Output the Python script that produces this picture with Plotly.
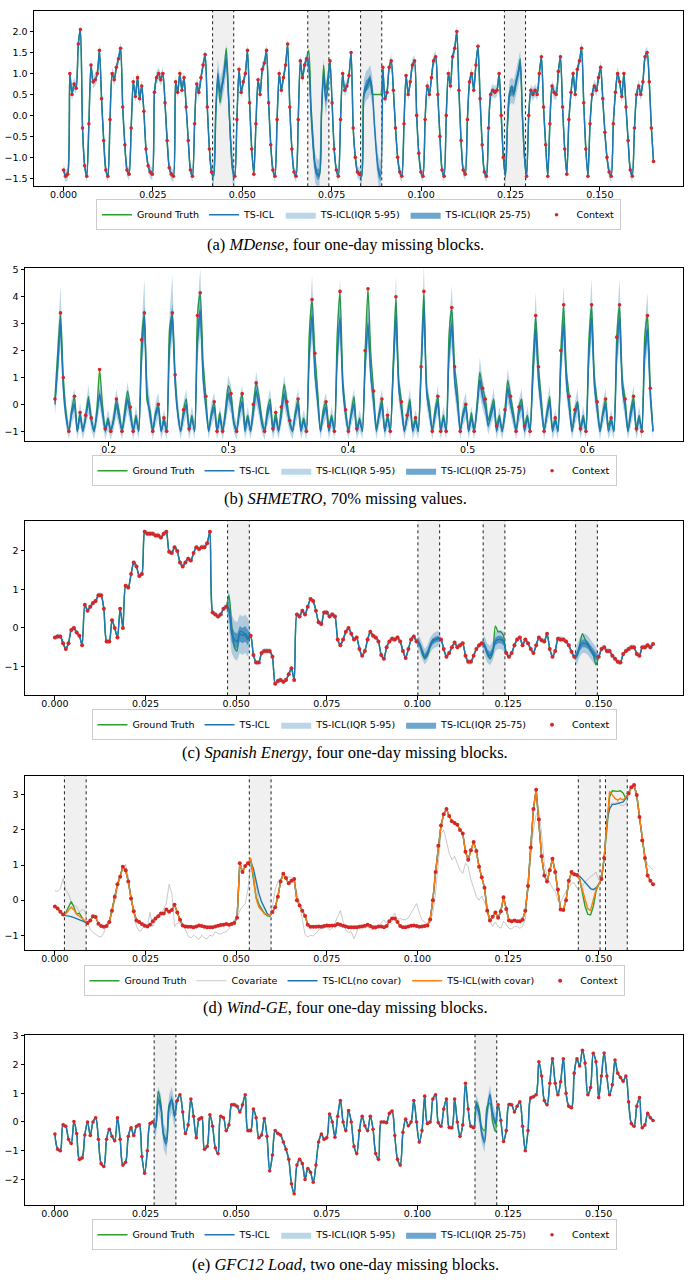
import numpy as np
import plotly.graph_objects as go

# ======================= DATA =======================
# ---- (a) MDense ----
A_X_SPAN = (0.0, 0.165)
A_GT = [
    -1.3, -1.45, -1.4, 1.0, 0.5, 0.75, 0.65, 1.7, 2.05, -0.3, -1.2,
    -1.45, -0.2, 1.2, 0.8, 0.85, 1.0, 1.55, 0.4, -0.6, -1.3,
    -1.45, -0.1, 1.0, 0.85, 1.15, 1.35, 1.6, 0.2, -0.7, -1.3,
    -1.4, -0.3, 0.8, 0.45, 0.9, 0.4, 0.7, 0.1, -0.8, -1.2, -1.35,
    -1.4, 0.55, 0.9, 1.0, 0.85, 1.0, 0.3, -0.6, -1.25, -1.4,
    -1.45, 0.8, 0.55, 1.0, 0.6, 0.9, 0.2, -0.6, -1.3,
    -1.45, -0.2, 0.75, 0.55, 0.9, 1.2, 1.45, 0.2, -0.8, -1.35,
    -1.45, 0.0, 0.9, 0.3, 0.7, 1.1, 1.6, 0.5, -0.6, -1.3,
    -1.45, -0.1, 1.1, 0.55, 0.8, 1.0, 1.55, 0.3, -0.8,
    -1.4, -0.2, 0.85, 0.5, 1.1, 1.25, 1.55, 0.3, -0.7, -1.3,
    -1.45, -0.1, 1.0, 0.6, 0.9, 1.2, 1.7, 0.2, -0.8, -1.35,
    -1.45, -0.1, 1.3, 0.9, 1.2, 1.35, 1.55, 0.3, -0.6, -1.2, -1.4,
    -1.45, 0.0, 1.2, 0.6, 0.9, 1.3, 0.3, -0.8, -1.3,
    -1.45, -0.1, 1.0, 0.6, 0.7, 0.95, 1.5, -0.3, -1.0, -1.35, -1.4,
    -1.45, 0.5, 0.6, 0.8, 0.9, 0.5, 0.5, 0.5, 0.5, 0.5,
    1.15, 0.4, 0.55, 1.15, 1.3, 0.6, -0.3, -1.0, -1.35,
    -1.45, -0.2, 0.95, 0.5, 0.8, 1.2, 1.3, 0.0, -0.9, -1.35,
    -1.45, -0.1, 0.7, 0.5, 0.9, 1.3, 1.4, 0.5, -0.5, -1.3,
    -1.45, 0.0, 1.0, 0.7, 1.4, 1.6, 2.0, 0.6, -0.6, -1.3,
    -1.4, -0.1, 0.8, 1.0, 0.6, 1.2, 1.65, 0.4, -0.7, -1.35,
    -1.45, -0.3, 0.5, 0.6, 0.55, 0.6, 1.0, 0.0, -1.0,
    -1.45, -0.2, 0.5, 0.7, 0.5, 0.8, 1.0, 1.35, 0.0, -1.0,
    -1.45, 0.0, 0.6, 0.5, 0.6, 0.5, 1.0, 1.4, 0.2, -0.7,
    -1.45, -0.2, 0.7, 0.55, 0.5, 1.05, 1.4, 0.2, -0.8, -1.4,
    -0.1, 0.55, 1.0, 0.5, 1.1, 1.3, 1.6, 0.3, -0.8,
    -1.45, -0.2, 0.5, 0.7, 0.6, 0.9, 1.15, 0.4, -0.4, -1.0, -1.35,
    -1.45, -0.2, 0.55, 1.0, 0.8, 0.45, 1.0, 0.2, -0.6, -1.3,
    -1.45, -0.3, 0.5, 0.7, 0.5, 0.8, 1.4, 1.5, 0.8, -0.3, -1.1,
]
A_BLOCK_START = [71, 116, 141, 209]
A_BLOCK_PRED = [
    [-1.45, 0.1, 1.0, 0.55, 0.7, 1.0, 1.35, 0.5, -0.6, -1.3],
    [1.2, 0.1, -0.7, -1.25, -1.4, -1.4, 0.1, 1.0, 0.35, 0.7],
    [-1.45, 0.5, 0.7, 0.75, 0.85, 0.6, -0.2, -0.9, -1.35, -1.45],
    [-1.45, -0.1, 0.55, 0.6, 0.55, 0.8, 1.0, 1.25, 0.0, -1.0],
]
A_BLOCK_BAND = [(0.35, 0.13), (0.35, 0.13), (0.35, 0.13), (0.3, 0.12)]
A_CTX_BAND = (0.15, 0.05)

# ---- (b) SHMETRO ----
B_X_SPAN = (0.155, 0.655)
B_GT = [
    0.2, 1.9, 3.4, 1.0, -0.3, -1.0, -0.2, 0.3, -1.0, -0.3,
    -1.0, -0.4, 0.3, -0.5, -1.0, -0.2, 1.3, 0.0, -0.9, -0.5,
    -1.0, -0.5, 0.2, -0.3, -1.0, -0.2, 0.5, -0.1, -1.0, -0.4,
    -1.0, 2.4, 3.4, 0.1, -0.2, -1.0, -0.3, 0.0, -1.0, -0.5,
    -1.0, 2.8, 3.4, 1.1, -0.3, -1.0, -0.2, 0.2, -0.9, -0.4,
    -1.0, 3.3, 4.15, 1.6, 0.3, -1.0, -0.3, 0.1, -1.0, -0.3,
    -1.0, -0.2, 0.7, 0.4, -0.6, -1.0, -0.1, 0.4, -0.8, -0.4,
    -1.0, 0.0, 0.8, 0.3, -0.5, -1.0, -0.2, 0.2, -0.9, -0.3,
    -1.0, -0.1, 0.75, 0.1, -0.6, -1.0, -0.3, 0.2, -0.9, -0.5,
    -1.0, 2.6, 3.9, 1.9, 0.5, -1.0, -0.2, 0.1, -0.8, -0.4,
    -1.0, 2.6, 4.2, 0.9, -0.2, -1.0, -0.3, 0.3, -0.9, -0.5,
    -1.0, 2.0, 4.3, 1.9, 0.5, -0.9, -0.3, 0.2, -1.0, -0.4,
    -1.0, 1.4, 4.0, 0.9, 0.1, -1.0, -0.4, 0.2, -0.9, -0.5,
    -1.0, 1.4, 4.2, 0.6, 0.0, -1.0, -0.2, 0.3, -1.0, -0.4,
    -1.0, 2.6, 3.6, 1.4, 0.5, -1.0, -0.3, 0.0, -1.0, -0.3,
    -1.0, 0.0, 1.2, 0.6, 0.2, -0.6, -0.2, 0.2, -0.8, -0.4,
    -1.0, -0.2, 0.9, 0.3, -0.3, -1.0, -0.1, 0.2, -0.8, -0.4,
    -1.0, 1.5, 3.3, 1.4, 0.2, -1.0, -0.3, 0.3, -0.9, -0.5,
    -1.0, 2.0, 3.7, 1.2, 0.3, -1.0, -0.2, 0.1, -0.9, -0.4,
    -1.0, 2.3, 3.7, 1.0, 0.1, -1.0, -0.3, 0.2, -0.8, -0.5,
    -1.0, 2.5, 3.7, 0.9, 0.2, -1.0, -0.2, 0.3, -0.9, -0.4,
    -1.0, 2.5, 3.3, 0.6, -1.0,
]
B_PRED = [
    0.0, 1.4, 3.0, 0.6, -0.5, -1.0, -0.3, 0.0, -1.0, -0.4,
    -1.0, -0.5, 0.1, -0.6, -1.0, -0.4, 0.4, -0.3, -1.0, -0.6,
    -1.0, -0.6, 0.0, -0.5, -1.0, -0.4, 0.2, -0.4, -1.0, -0.5,
    -1.0, 1.8, 3.2, 0.4, -0.4, -1.0, -0.4, -0.1, -1.0, -0.6,
    -1.0, 2.2, 3.3, 0.8, -0.4, -1.0, -0.4, 0.0, -1.0, -0.5,
    -1.0, 2.4, 3.5, 1.0, -0.1, -1.0, -0.4, -0.1, -1.0, -0.5,
    -1.0, -0.4, 0.4, 0.1, -0.7, -1.0, -0.3, 0.1, -1.0, -0.5,
    -1.0, -0.3, 0.5, 0.0, -0.7, -1.0, -0.4, 0.0, -1.0, -0.5,
    -1.0, -0.4, 0.4, -0.1, -0.7, -1.0, -0.4, 0.0, -1.0, -0.6,
    -1.0, 1.9, 3.3, 1.2, 0.1, -1.0, -0.4, -0.1, -1.0, -0.5,
    -1.0, 1.8, 3.2, 0.6, -0.4, -1.0, -0.4, 0.0, -1.0, -0.6,
    -1.0, 1.5, 3.0, 1.1, 0.1, -1.0, -0.4, 0.0, -1.0, -0.5,
    -1.0, 1.2, 3.3, 0.6, -0.2, -1.0, -0.5, 0.0, -1.0, -0.6,
    -1.0, 1.2, 3.6, 0.4, -0.3, -1.0, -0.4, 0.1, -1.0, -0.5,
    -1.0, 1.9, 3.0, 0.9, 0.1, -1.0, -0.4, -0.1, -1.0, -0.5,
    -1.0, -0.2, 0.9, 0.3, -0.1, -0.8, -0.4, 0.0, -1.0, -0.5,
    -1.0, -0.4, 0.6, 0.0, -0.5, -1.0, -0.3, 0.0, -1.0, -0.5,
    -1.0, 1.1, 2.8, 0.9, -0.1, -1.0, -0.4, 0.1, -1.0, -0.6,
    -1.0, 1.5, 3.0, 0.8, -0.1, -1.0, -0.4, 0.0, -1.0, -0.5,
    -1.0, 1.8, 3.2, 0.7, -0.2, -1.0, -0.4, 0.0, -1.0, -0.6,
    -1.0, 1.9, 3.2, 0.6, -0.1, -1.0, -0.4, 0.1, -1.0, -0.5,
    -1.0, 1.9, 2.8, 0.3, -1.0,
]
B_CONTEXT_MASK = (
    "1011010101" "0101001010" "1010100110" "0110010101" "1011001010"
    "0110100110" "1001010100" "0110010011" "0101100100" "1011000110"
    "1010110010" "0110100101" "1010101001" "0110010110" "1011010100"
    "1001100010" "0101011010" "1011010001" "0110101010" "1010100101"
    "0110100110" "10110"
)
# quantile widths (base, per unit of level above -1)
B_BAND95 = (0.3, 0.28)
B_BAND50 = (0.08, 0.09)

# ---- (c) Spanish Energy ----
C_X_SPAN = (0.0, 0.165)
C_GT = [
    -0.25, -0.22, -0.22, -0.4, -0.55, -0.4, -0.05, 0.0, -0.12, -0.2,
    -0.45, 0.6, 0.45, 0.55, 0.65, 0.7, 0.85, 0.85, 0.5, -0.35,
    -0.35, 0.2, 0.0, -0.25, 0.5, 0.0, 1.1, 1.05, 1.4, 1.7,
    1.6, 1.35, 1.4, 2.5, 2.45, 2.45, 2.45, 2.4, 2.4, 2.35,
    2.45, 2.5, 1.98, 1.95, 2.1, 2.0, 1.7, 1.6, 1.7, 1.8,
    1.75, 1.95, 2.1, 2.05, 2.1, 2.1, 2.2, 2.5, 0.4, 0.35,
    0.3, 0.35, 0.5, 0.55, 0.85, 0.1, -0.5, -0.6, -0.1, -0.1,
    -0.2, -0.3, -0.2, -0.7, -0.9, -0.9, -0.65, -0.6, -0.6, -0.6,
    -0.75, -1.45, -1.38, -1.35, -1.4, -1.35, -1.2, -1.05, -1.35, 0.35,
    0.3, 0.45, 0.35, 0.55, 0.75, 0.7, 0.45, 0.15, 0.1, 0.4,
    0.4, 0.3, 0.35, 0.3, -0.3, -0.45, -0.3, -0.1, 0.0, -0.15,
    -0.3, -0.25, -0.55, -0.72, -0.6, -0.3, -0.1, -0.2, -0.25, -0.35,
    -0.7, -0.8, -0.5, -0.35, -0.28, -0.3, -0.25, -0.35, -0.6, -0.78,
    -0.55, -0.3, -0.22, -0.35, -0.4, -0.65, -0.8, -0.72, -0.5, -0.3,
    -0.3, -0.25, -0.3, -0.55, -0.75, -0.65, -0.5, -0.38, -0.5, -0.45,
    -0.4, -0.72, -0.88, -0.88, -0.72, -0.55, -0.45, -0.4, -0.45, -0.65,
    -0.8, -0.65, 0.05, -0.1, -0.1, -0.2, -0.65, -0.75, -0.65, -0.45,
    -0.3, -0.25, -0.45, -0.3, -0.4, -0.55, -0.65, -0.45, -0.25, -0.32,
    -0.35, -0.15, -0.55, -0.75, -0.6, -0.28, -0.3, -0.3, -0.35, -0.45,
    -0.62, -0.75, -0.72, -0.45, -0.15, -0.3, -0.4, -0.55, -0.7, -0.95,
    -0.75, -0.55, -0.5, -0.6, -0.6, -0.72, -0.8, -0.88, -0.9, -0.68,
    -0.6, -0.55, -0.5, -0.5, -0.68, -0.72, -0.5, -0.5, -0.45, -0.5,
    -0.42,
]
C_BLOCK_START = [64, 134, 158, 192]
C_BLOCK_PRED = [
    [0.5, -0.15, -0.3, -0.35, -0.15, -0.2, -0.15, -0.25],
    [-0.4, -0.6, -0.75, -0.65, -0.45, -0.35, -0.3, -0.28],
    [-0.45, -0.65, -0.72, -0.6, -0.35, -0.3, -0.3, -0.35],
    [-0.7, -0.5, -0.4, -0.4, -0.45, -0.55, -0.65, -0.75],
]
C_BLOCK_BAND = [(0.5, 0.2), (0.2, 0.08), (0.25, 0.1), (0.25, 0.1)]
C_CTX_BAND = (0.07, 0.03)

# ---- (d) Wind-GE ----
D_X_SPAN = (0.0, 0.165)
D_GT = [
    -0.18, -0.24, -0.33, -0.41, -0.36, -0.22, -0.04, -0.2, -0.4, -0.37,
    -0.5, -0.63, -0.65, -0.58, -0.46, -0.48, -0.67, -0.74, -0.76, -0.74,
    -0.62, -0.3, 0.1, 0.45, 0.67, 0.95, 0.85, 0.53, 0.05, -0.32,
    -0.58, -0.62, -0.68, -0.73, -0.75, -0.7, -0.6, -0.52, -0.46, -0.38,
    -0.38, -0.27, -0.33, -0.28, -0.13, -0.35, -0.56, -0.72, -0.75, -0.76,
    -0.76, -0.77, -0.75, -0.72, -0.74, -0.76, -0.77, -0.77, -0.77, -0.75,
    -0.73, -0.71, -0.7, -0.68, -0.7, -0.68, -0.65, -0.5, 1.05, 0.8,
    0.97, 1.05, 1.15, 0.6, 0.08, -0.12, -0.26, -0.37, -0.44, -0.46,
    -0.34, -0.2, 0.1, 0.53, 0.75, 0.63, 0.48, 0.55, 0.6, 0.0,
    -0.15, -0.3, -0.45, -0.7, -0.76, -0.76, -0.76, -0.75, -0.76, -0.74,
    -0.72, -0.73, -0.72, -0.72, -0.68, -0.7, -0.73, -0.75, -0.77, -0.77,
    -0.77, -0.77, -0.76, -0.75, -0.73, -0.7, -0.74, -0.77, -0.77, -0.75,
    -0.75, -0.77, -0.74, -0.6, -0.52, -0.52, -0.62, -0.74, -0.77, -0.77,
    -0.75, -0.73, -0.72, -0.74, -0.76, -0.75, -0.74, -0.72, -0.55, 0.0,
    0.8, 1.55, 2.13, 2.45, 2.6, 2.4, 2.25, 2.2, 2.15, 2.0,
    1.9, 1.38, 1.15, 1.42, 1.66, 1.4, 0.95, 0.65, 0.35, -0.3,
    -0.58, -0.47, -0.35, -0.5, -0.32, 0.08, -0.25, -0.58, -0.6, -0.58,
    -0.6, -0.6, -0.56, -0.3, 0.4, 1.5, 2.6, 3.15, 2.3, 1.25,
    0.7, 0.53, 0.85, 1.18, 0.8, 0.3, -0.27, -0.28, 0.0, 0.55,
    0.8, 0.74, 0.72, 0.6, 0.15, -0.18, -0.4, -0.42, -0.18, 0.25,
    0.45, 0.6, 1.2, 2.2, 2.95, 3.12, 3.1, 3.1, 3.12, 3.05,
    2.9, 3.05, 3.22, 3.28, 3.0, 2.37, 1.7, 1.2, 0.7, 0.55,
    0.45,
]
D_COV = [
    0.27, 0.25, 0.32, 0.62, 0.28, 0.18, -0.05, -0.15, -0.18, -0.34,
    -0.27, -0.3, -0.65, -0.84, -0.92, -0.98, -1.03, -1.05, -0.93, -0.68,
    -0.55, -0.37, -0.03, 0.35, 0.67, 0.9, 1.02, 0.67, 0.05, -0.37,
    -0.75, -0.88, -0.85, -0.65, -0.75, -0.35, -0.75, -0.6, -0.4, -0.42,
    -0.23, -0.08, 0.45, 0.2, -0.75, -0.65, -0.65, -0.75, -0.85, -1.03,
    -1.08, -1.0, -1.05, -1.12, -1.0, -1.08, -1.1, -1.0, -1.03, -0.9,
    -0.95, -0.97, -0.92, -0.9, -0.82, -0.7, -0.55, -0.5, -0.3, -0.18,
    -0.1, 0.3, 1.0, 0.82, 0.45, -0.08, -0.27, -0.42, -0.4, -0.42,
    -0.18, 0.29, 0.52, 0.62, 0.64, 0.58, 0.67, 0.64, 0.5, 0.2,
    -0.08, -0.55, -0.98, -1.05, -1.0, -1.02, -0.95, -0.85, -0.8, -0.8,
    -0.75, -0.85, -0.8, -0.65, -0.45, -0.3, -0.6, -0.85, -0.93, -0.9,
    -1.1, -0.88, -0.72, -0.7, -0.8, -0.76, -0.83, -0.84, -0.83, -0.75,
    -0.65, -0.56, -0.65, -0.62, -0.55, -0.37, -0.55, -0.52, -0.56, -0.55,
    -0.5, -0.37, -0.22, -0.1, -0.35, -0.56, -0.62, -0.7, -0.65, -0.37,
    0.2, 0.95, 1.9, 2.0, 1.7, 1.35, 1.15, 1.25, 1.05, 0.85,
    0.76, 1.05, 0.95, 0.58, 0.35, 0.1, 0.0, 0.12, -0.05, -0.3,
    -0.6, -0.75, -0.62, -0.75, -0.8, -0.6, -0.7, -0.8, -0.82, -0.75,
    -0.75, -0.8, -0.75, -0.55, 0.3, 1.3, 2.0, 2.45, 2.55, 1.9,
    1.05, 0.67, 0.5, 0.35, 0.25, -0.02, -0.05, 0.12, 0.25, 0.35,
    0.48, 0.5, 0.34, 0.34, 0.4, 0.52, 0.6, 0.67, 0.72, 0.8,
    0.58, 0.62, 1.2, 2.05, 2.7, 2.78, 2.75, 2.82, 2.7, 2.7,
    2.75, 2.95, 3.2, 3.2, 2.9, 2.3, 1.7, 1.3, 1.0, 0.95,
    0.85,
]
D_BLOCK_START = [4, 72, 193, 203]
D_BLOCK_PRED_NOCOV = [
    [-0.44, -0.45, -0.47, -0.5, -0.53, -0.57, -0.6, -0.64],
    [1.12, 0.9, 0.55, 0.2, -0.05, -0.2, -0.37, -0.46],
    [0.68, 0.6, 0.5, 0.4, 0.33, 0.3, 0.35, 0.45],
    [2.27, 2.6, 2.73, 2.73, 2.75, 2.76, 2.8, 2.9],
]
D_BLOCK_PRED_COV = [
    [-0.39, -0.3, -0.2, -0.28, -0.4, -0.46, -0.52, -0.6],
    [1.2, 0.7, 0.05, -0.2, -0.3, -0.38, -0.42, -0.45],
    [0.58, 0.3, 0.05, -0.25, -0.29, 0.0, 0.3, 0.45],
    [2.3, 3.1, 3.0, 2.9, 2.85, 2.9, 2.85, 2.95],
]

# ---- (e) GFC12 Load ----
E_X_SPAN = (0.0, 0.165)
E_GT = [
    -0.42, -0.95, -1.0, -0.1, -0.15, -0.6, -0.75, 0.02, -0.4, -1.3,
    -1.25, -0.45, 0.0, -0.47, 0.0, 0.15, -0.6, -1.45, -1.55, -0.6,
    -0.25, -0.5, -0.65, 0.15, -0.6, -1.5, -1.4, -0.5, -0.2, -0.47,
    -0.15, -0.1, -1.2, -1.78, -1.0, -0.05, 0.0, -0.2, 1.07, 0.6,
    -0.45, -0.6, 0.6, 0.75, 0.2, 0.75, 0.95, 0.35, -0.4, -0.1,
    0.8, 0.2, -0.55, 0.1, 0.15, -0.95, -0.85, 0.25, -0.15, -0.9,
    -1.1, 0.2, 0.15, -0.3, -0.1, 0.6, 0.6, 0.55, 0.35, 0.6,
    0.95, -0.3, -0.3, 0.45, 0.15, -0.55, -0.45, 0.12, -0.5, -1.7,
    -1.15, -0.3, -0.4, -0.45, -0.7, -0.95, -1.3, -2.15, -2.5, -1.5,
    -1.3, -1.45, -2.0, -1.62, -1.75, -2.1, -1.5, -0.7, -0.42, -0.6,
    -0.55, 0.28, 0.0, -0.53, 0.2, 0.75, 0.0, -0.3, 0.4, 0.0,
    -0.85, -1.1, -0.3, 0.2, -0.13, -0.3, 0.2, -0.25, -1.1, -1.3,
    0.0, 0.0, -0.02, 0.3, 0.38, -0.47, -1.3, -1.5, -0.36, 0.1,
    -0.13, 0.0, 0.75, 0.0, -0.7, -0.3, 0.9, -0.05, 0.0, 0.8,
    0.95, -0.02, -0.15, 0.45, 0.8, -0.19, -0.2, 0.8, 0.0, -0.5,
    -0.1, 1.35, 0.45, -0.15, -0.2, 0.7, 0.45, -0.2, -0.3, 0.55,
    0.65, 0.0, -0.33, 0.6, 0.05, -0.68, -0.3, 0.61, 0.6, 0.35,
    0.55, 0.7, -0.15, -1.0, -0.3, 0.84, 0.88, 0.95, 2.1, 1.6,
    0.75, 0.6, 1.35, 2.2, 1.35, 0.95, 1.4, 2.2, 1.0, 0.55,
    0.5, 1.7, 2.2, 1.95, 2.5, 2.05, 0.95, 1.2, 2.39, 2.1,
    0.85, 1.6, 2.4, 1.6, 0.95, 1.3, 2.16, 1.7, 1.55, 1.42,
    1.6, 0.7, -0.05, -0.15, 0.55, 0.85, -0.2, -0.1, 0.3, 0.15,
    0.05,
]
E_BLOCK_START = [37, 155]
E_BLOCK_PRED = [
    [-0.2, 0.78, 0.5, -0.5, -0.75, 0.5, 0.78, 0.2],
    [0.6, 0.3, -0.4, -0.7, 0.4, 0.95, 0.3, -0.05],
]
E_BLOCK_BAND = [(0.45, 0.15), (0.35, 0.12)]
E_CTX_BAND = (0.08, 0.03)

CAPTIONS = [
    "(a) <i>MDense</i>, four one-day missing blocks.",
    "(b) <i>SHMETRO</i>, 70% missing values.",
    "(c) <i>Spanish Energy</i>, four one-day missing blocks.",
    "(d) <i>Wind-GE</i>, four one-day missing blocks.",
    "(e) <i>GFC12 Load</i>, two one-day missing blocks.",
]

# ======================= STYLE / LAYOUT =======================
W, H = 690, 1282
GREEN = "#2ca02c"
BLUE = "#1f77b4"
ORANGE = "#ff7f0e"
RED = "#d62728"
BAND95 = "rgba(31,119,180,0.30)"
BAND50 = "rgba(31,119,180,0.65)"
FONT = "DejaVu Sans"
TICK_SIZE = 9.5
LEG_SIZE = 9.5

# pixel boxes of the five axes: (left, top, right, bottom)
BOXES = [(34, 6, 683, 182), (25, 264, 683, 438), (25, 518, 683, 693),
         (25, 774, 683, 949), (25, 1034, 683, 1205)]
LEGEND_TOP = [195, 452, 707, 964, 1219]
CAPTION_Y = [240, 495, 750, 1006, 1264]
YRANGES = [(-1.69, 2.49), (-1.37, 5.07), (-1.75, 2.78), (-1.43, 3.54), (-2.9, 3.03)]
SMOOTH = {1: 0.7, 2: 0.6, 5: 1.0}

fig = go.Figure()


def ax_names(k):
    s = "" if k == 1 else str(k)
    return "x" + s, "y" + s, ("legend" if k == 1 else "legend%d" % k)


def line(k, x, y, color, name, rank, width=1.4, shape="spline", showlegend=True):
    xa, ya, lg = ax_names(k)
    fig.add_trace(go.Scatter(
        x=x, y=y, mode="lines", name=name, legend=lg, legendrank=rank,
        xaxis=xa, yaxis=ya, showlegend=showlegend,
        line=dict(color=color, width=width, shape=shape, smoothing=SMOOTH.get(k, 0.7)),
        hoverinfo="skip"))


def band(k, x, lo, hi, color, name, rank):
    xa, ya, lg = ax_names(k)
    fig.add_trace(go.Scatter(
        x=np.concatenate([x, x[::-1]]), y=np.concatenate([hi, lo[::-1]]),
        fill="toself", fillcolor=color, mode="lines", line=dict(width=0),
        name=name, legend=lg, legendrank=rank, xaxis=xa, yaxis=ya,
        hoverinfo="skip"))


def dots(k, x, y, rank, size=3.6):
    xa, ya, lg = ax_names(k)
    fig.add_trace(go.Scatter(
        x=x, y=y, mode="markers", name="Context", legend=lg, legendrank=rank,
        xaxis=xa, yaxis=ya, marker=dict(color=RED, size=size, line=dict(width=0)),
        hoverinfo="skip"))


def blocks(k, x, starts, lengths):
    _, ya, _ = ax_names(k)
    dx = x[1] - x[0]
    xa = "x" if k == 1 else "x%d" % k
    for s, L in zip(starts, lengths):
        x0 = x[s] - dx / 2
        x1 = x[s + L - 1] + dx / 2
        fig.add_shape(type="rect", xref=xa, yref=ya + " domain", x0=x0, x1=x1,
                      y0=0, y1=1, fillcolor="#f0f0f0", line=dict(width=0), layer="below")
        for xv in (x0, x1):
            fig.add_shape(type="line", xref=xa, yref=ya + " domain", x0=xv, x1=xv,
                          y0=0, y1=1, line=dict(color="#222222", width=1, dash="dot"),
                          layer="below")


def imputation_panel(k, span, gt, starts, preds, bands, ctx_band, dot_size=3.6):
    gt = np.array(gt, float)
    n = len(gt)
    x = np.linspace(span[0], span[1], n)
    pred = gt.copy()
    w95 = np.full(n, ctx_band[0])
    w50 = np.full(n, ctx_band[1])
    ctx = np.ones(n, bool)
    for s, p, b in zip(starts, preds, bands):
        pred[s:s + len(p)] = p
        w95[s:s + len(p)] = b[0]
        w50[s:s + len(p)] = b[1]
        ctx[s:s + len(p)] = False
    blocks(k, x, starts, [len(p) for p in preds])
    line(k, x, gt, GREEN, "Ground Truth", 1)
    band(k, x, pred - w95, pred + w95, BAND95, "TS-ICL(IQR 5-95)", 3)
    band(k, x, pred - w50, pred + w50, BAND50, "TS-ICL(IQR 25-75)", 4)
    line(k, x, pred, BLUE, "TS-ICL", 2)
    dots(k, x[ctx], gt[ctx], 5, dot_size)


# (a)
imputation_panel(1, A_X_SPAN, A_GT, A_BLOCK_START, A_BLOCK_PRED, A_BLOCK_BAND, A_CTX_BAND)

# (b)
bgt = np.array(B_GT, float)
bpr = np.array(B_PRED, float)
bx = np.linspace(B_X_SPAN[0], B_X_SPAN[1], len(bgt))
lvl = np.maximum(bpr + 1.0, 0.0)
bmask = np.array([c == "1" for c in B_CONTEXT_MASK])
line(2, bx, bgt, GREEN, "Ground Truth", 1)
band(2, bx, bpr - (B_BAND95[0] + 0.5 * B_BAND95[1] * lvl), bpr + B_BAND95[0] + B_BAND95[1] * lvl,
     BAND95, "TS-ICL(IQR 5-95)", 3)
band(2, bx, bpr - (B_BAND50[0] + B_BAND50[1] * lvl), bpr + B_BAND50[0] + B_BAND50[1] * lvl,
     BAND50, "TS-ICL(IQR 25-75)", 4)
line(2, bx, bpr, BLUE, "TS-ICL", 2)
dots(2, bx[bmask], bgt[bmask], 5)

# (c)
imputation_panel(3, C_X_SPAN, C_GT, C_BLOCK_START, C_BLOCK_PRED, C_BLOCK_BAND, C_CTX_BAND, 4.0)

# (d)
dgt = np.array(D_GT, float)
dx_ = np.linspace(D_X_SPAN[0], D_X_SPAN[1], len(dgt))
p_nc = dgt.copy()
p_c = dgt.copy()
dctx = np.ones(len(dgt), bool)
for s, a, b in zip(D_BLOCK_START, D_BLOCK_PRED_NOCOV, D_BLOCK_PRED_COV):
    p_nc[s:s + len(a)] = a
    p_c[s:s + len(b)] = b
    dctx[s:s + len(a)] = False
blocks(4, dx_, D_BLOCK_START, [len(a) for a in D_BLOCK_PRED_NOCOV])
line(4, dx_, np.array(D_COV, float), "rgba(150,150,150,0.5)", "Covariate", 2, width=1.0, shape="linear")
line(4, dx_, dgt, GREEN, "Ground Truth", 1, shape="linear")
line(4, dx_, p_nc, BLUE, "TS-ICL(no covar)", 3, shape="linear")
line(4, dx_, p_c, ORANGE, "TS-ICL(with covar)", 4, shape="linear")
dots(4, dx_[dctx], dgt[dctx], 5, 4.0)

# (e)
imputation_panel(5, E_X_SPAN, E_GT, E_BLOCK_START, E_BLOCK_PRED, E_BLOCK_BAND, E_CTX_BAND)

# ---- axes, legends, captions ----
layout = dict(width=W, height=H, margin=dict(l=0, r=0, t=0, b=0),
              paper_bgcolor="white", plot_bgcolor="white",
              font=dict(family=FONT, size=TICK_SIZE, color="black"), showlegend=True)
annotations = []
for i, (l, t, r, b) in enumerate(BOXES):
    k = i + 1
    s = "" if k == 1 else str(k)
    xd = [l / W, r / W]
    yd = [1 - b / H, 1 - t / H]
    is_b = (k == 2)
    layout["xaxis" + s] = dict(
        domain=xd, anchor="y" + s,
        range=[0.13, 0.68] if is_b else [-0.00825, 0.17325],
        dtick=0.1 if is_b else 0.025, tick0=0,
        tickformat=".1f" if is_b else ".3f",
        showline=True, linecolor="black", linewidth=1, mirror=True,
        ticks="outside", ticklen=3.5, tickwidth=0.8, tickcolor="black",
        ticklabelstandoff=-4,
        showgrid=False, zeroline=False, tickfont=dict(size=TICK_SIZE, family=FONT))
    layout["yaxis" + s] = dict(
        domain=yd, anchor="x" + s, range=list(YRANGES[i]),
        dtick=0.5 if k == 1 else 1, tick0=0,
        tickformat=".1f" if k == 1 else "d",
        showline=True, linecolor="black", linewidth=1, mirror=True,
        ticks="outside", ticklen=3.5, tickwidth=0.8, tickcolor="black",
        showgrid=False, zeroline=False, tickfont=dict(size=TICK_SIZE, family=FONT))
    lg = "legend" if k == 1 else "legend%d" % k
    layout[lg] = dict(
        orientation="h", x=(l + r) / 2 / W, xanchor="center",
        y=1 - LEGEND_TOP[i] / H, yanchor="top",
        bgcolor="white", bordercolor="#cccccc", borderwidth=1,
        font=dict(size=LEG_SIZE, family=FONT), itemwidth=30, traceorder="normal")
    annotations.append(dict(
        text=CAPTIONS[i], xref="paper", yref="paper", x=0.5, y=1 - CAPTION_Y[i] / H,
        xanchor="center", yanchor="middle", showarrow=False,
        font=dict(family="Liberation Serif", size=16.5, color="black")))
layout["annotations"] = annotations
fig.update_layout(**layout)
fig.write_html("out.html")
